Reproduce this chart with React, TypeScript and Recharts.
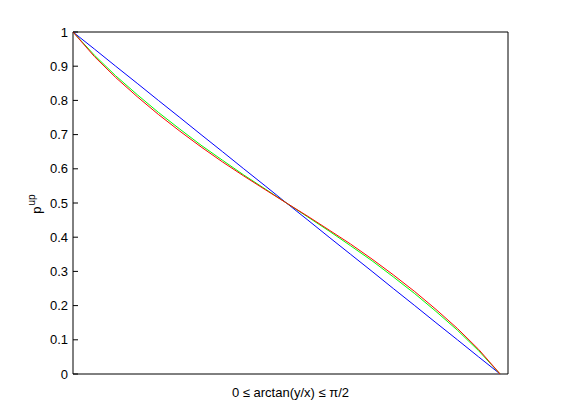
import React from "react";
import {
  LineChart,
  Line,
  XAxis,
  YAxis,
  ReferenceArea
} from "recharts";

// angle arctan(y/x) in radians, 0 .. pi/2
const theta = [
  0, 0.079, 0.157, 0.236, 0.314, 0.393, 0.471, 0.55, 0.628, 0.707, 0.785,
  0.864, 0.942, 1.021, 1.1, 1.178, 1.257, 1.335, 1.414, 1.492, 1.571
];
const blueVals = [
  1, 0.95, 0.9, 0.85, 0.8, 0.75, 0.7, 0.65, 0.6, 0.55, 0.5,
  0.45, 0.4, 0.35, 0.3, 0.25, 0.2, 0.15, 0.1, 0.05, 0
];
const greenVals = [
  1, 0.932, 0.872, 0.817, 0.765, 0.716, 0.669, 0.625, 0.582, 0.541, 0.5,
  0.459, 0.418, 0.375, 0.331, 0.284, 0.235, 0.183, 0.128, 0.068, 0
];
const redVals = [
  1, 0.928, 0.867, 0.811, 0.759, 0.71, 0.664, 0.62, 0.579, 0.539, 0.5,
  0.461, 0.421, 0.38, 0.336, 0.29, 0.241, 0.189, 0.133, 0.072, 0
];
const yTicks = [0, 0.1, 0.2, 0.3, 0.4, 0.5, 0.6, 0.7, 0.8, 0.9, 1];

const font = "'Liberation Sans', Arial, Helvetica, sans-serif";

const data = theta.map((t, i) => ({
  theta: t,
  blue: blueVals[i],
  green: greenVals[i],
  red: redVals[i]
}));

function YLabel() {
  return (
    <text
      transform="translate(41,204) rotate(-90)"
      textAnchor="middle"
      fontFamily={font}
      fontSize={13}
      fill="#000"
    >
      p
      <tspan dx={1} dy={-6} fontSize={10}>
        up
      </tspan>
    </text>
  );
}

export default function App() {
  return (
    <div
      style={{
        position: "fixed",
        left: 0,
        top: 0,
        width: 561,
        height: 420,
        background: "#fff"
      }}
    >
      <LineChart
        width={561}
        height={420}
        data={data}
        margin={{ top: 32, right: 0, bottom: 0, left: 0 }}
      >
        <XAxis
          type="number"
          dataKey="theta"
          domain={[0, 1.6]}
          tick={false}
          tickLine={false}
          axisLine={false}
          height={46}
          label={{
            value: "0 \u2264 arctan(y/x) \u2264 \u03c0/2",
            position: "insideTop",
            offset: 14,
            fill: "#000",
            fontSize: 13,
            fontFamily: font
          }}
        />
        <YAxis
          type="number"
          domain={[0, 1]}
          ticks={yTicks}
          width={73}
          tickSize={-5}
          tickMargin={10}
          axisLine={false}
          tickLine={{ stroke: "#000" }}
          tick={{ fill: "#000", fontSize: 13, fontFamily: font }}
          label={<YLabel />}
        />
        <YAxis
          yAxisId="r"
          orientation="right"
          type="number"
          domain={[0, 1]}
          ticks={yTicks}
          width={53}
          tickSize={-5}
          axisLine={false}
          tickLine={{ stroke: "#000" }}
          tick={() => <g />}
        />
        <ReferenceArea
          x1={0}
          x2={1.6}
          y1={0}
          y2={1}
          fill="none"
          stroke="#000"
          strokeWidth={1}
          fillOpacity={0}
        />
        <Line
          dataKey="blue"
          stroke="#0000ff"
          strokeWidth={1}
          dot={false}
          activeDot={false}
          isAnimationActive={false}
        />
        <Line
          dataKey="green"
          stroke="#00ff00"
          strokeWidth={1}
          dot={false}
          activeDot={false}
          isAnimationActive={false}
        />
        <Line
          dataKey="red"
          stroke="#ff0000"
          strokeWidth={1}
          dot={false}
          activeDot={false}
          isAnimationActive={false}
        />
      </LineChart>
    </div>
  );
}
